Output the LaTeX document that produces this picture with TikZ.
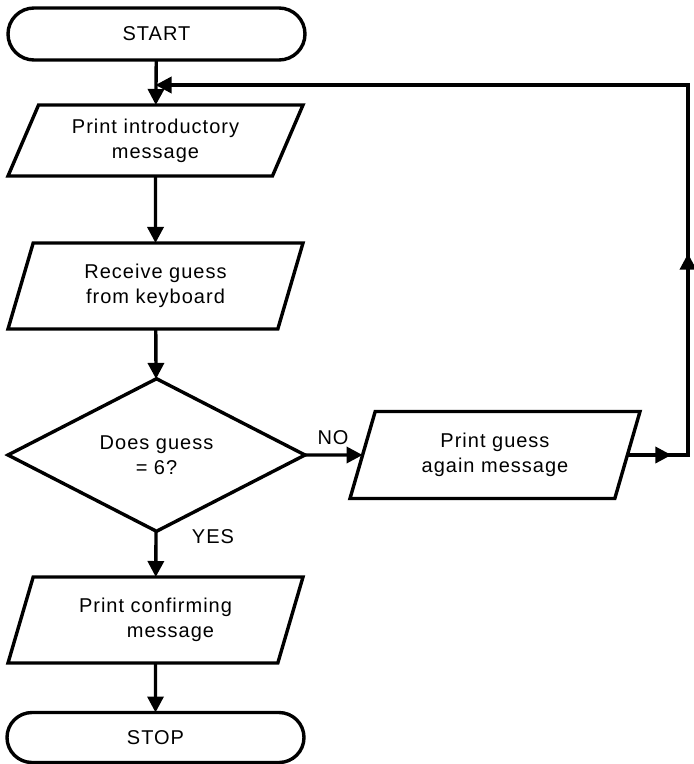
\documentclass[tikz,border=0pt]{standalone}
\usepackage{fontspec}
\setmainfont{Liberation Sans}[LetterSpace=5]
\usetikzlibrary{shapes.geometric,shapes.misc,arrows.meta,decorations.markings}
\begin{document}
\begin{tikzpicture}[x=1pt,y=-1pt,
  every node/.style={font=\fontsize{20}{25}\selectfont, align=center},
  lw/.style={line width=3.4pt},
  term/.style={lw, draw, rounded rectangle, minimum width=297pt, minimum height=52pt, inner sep=0pt, outer sep=0pt},
  io/.style={lw, draw, trapezium, trapezium stretches body, trapezium left angle=#1, trapezium right angle=180-#1, minimum width=295pt, inner sep=0pt, outer sep=0pt},
  dec/.style={lw, draw, diamond, minimum width=297pt, minimum height=148pt, inner sep=0pt, outer sep=0pt},
  conn/.style={lw, -{Triangle[length=16pt,width=16pt]}},
  midtip/.style={postaction={decorate, decoration={markings, mark=at position #1 with {\arrow{Triangle[length=16pt,width=16pt]}}}}}
]
\useasboundingbox (0,0) rectangle (694,764);
\node[term] (start) at (156.5,34) {START};
\node[io=55, minimum height=71pt] (p1) at (155.5,140.5) {Print introductory\\message};
\node[io=60, minimum height=86pt] (p2) at (155.5,286) {Receive guess\\from keyboard};
\node[dec] (dia) at (156.5,455) {Does guess\\= 6?};
\node[io=60, minimum height=87pt, minimum width=290pt] (rb) at (495,455) {Print guess\\again message};
\node[io=60, minimum height=86pt] (p3) at (155.5,620) {Print confirming\\\hspace*{30pt}message};
\node[term, minimum height=50pt] (stop) at (155.5,737.5) {STOP};
\node (no) at (333,438) {NO};
\node (yes) at (213,537) {YES};
\coordinate (join) at (155.5,85);
\coordinate (corner) at (688,85);

\draw[conn] (start) -- (p1);
\draw[conn] (p1) -- (p2);
\draw[conn] (p2) -- (dia);
\draw[conn] (dia.east) -- (rb.west);
\draw[conn] (dia) -- (p3);
\draw[conn] (p3) -- (stop);
\draw[conn, midtip=44pt, midtip=262pt] (rb.east) -| (corner) -- (join);
\end{tikzpicture}
\end{document}
